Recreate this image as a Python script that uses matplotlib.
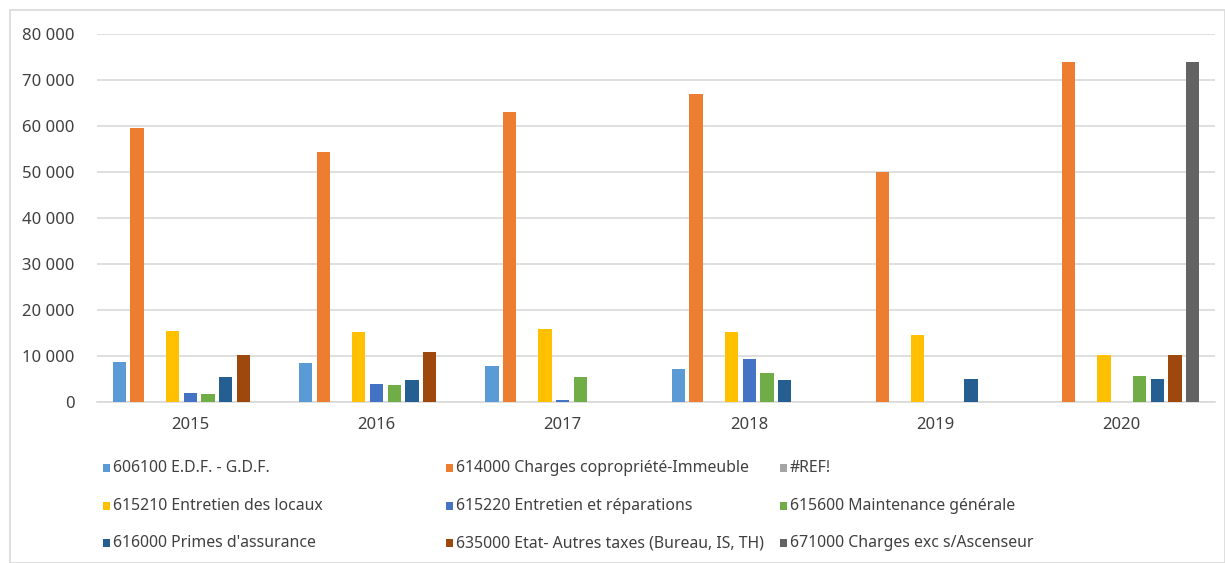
import matplotlib
matplotlib.use("Agg")
import matplotlib.pyplot as plt
import numpy as np
from matplotlib.patches import Rectangle
from matplotlib.ticker import FuncFormatter

years = ["2015", "2016", "2017", "2018", "2019", "2020"]
series_names = [
    "606100 E.D.F. - G.D.F.",
    "614000 Charges copropriété-Immeuble",
    "#REF!",
    "615210 Entretien des locaux",
    "615220 Entretien et réparations",
    "615600 Maintenance générale",
    "616000 Primes d'assurance",
    "635000 Etat- Autres taxes (Bureau, IS, TH)",
    "671000 Charges exc s/Ascenseur",
]
edf = [8700, 8400, 7800, 7200, 0, 0]
copro = [59600, 54400, 63000, 67000, 50000, 74000]
ref = [0, 0, 0, 0, 0, 0]
entretien_locaux = [15400, 15200, 15900, 15300, 14500, 10300]
entretien_rep = [2000, 4000, 400, 9300, 0, 0]
maintenance = [1700, 3800, 5400, 6300, 0, 5600]
assurance = [5400, 4700, 0, 4700, 4900, 4900]
taxes = [10300, 10800, 0, 0, 0, 10300]
ascenseur = [0, 0, 0, 0, 0, 74000]

values = [edf, copro, ref, entretien_locaux, entretien_rep, maintenance,
          assurance, taxes, ascenseur]
colors = ["#5B9BD5", "#ED7D31", "#A5A5A5", "#FFC000", "#4472C4", "#70AD47",
          "#255E91", "#9E480E", "#636363"]

plt.rcParams['font.family'] = ['Noto Sans', 'DejaVu Sans']

W, H = 1225, 563
fig = plt.figure(figsize=(W / 100, H / 100), dpi=100)
ax = fig.add_axes([97 / W, (H - 402) / H, (1215 - 97) / W, (402 - 34) / H])

x = np.arange(len(years))
slot = 0.095
bw = 0.0715
n = len(values)
for i, (vals, c) in enumerate(zip(values, colors)):
    off = (i - (n - 1) / 2) * slot
    ax.bar(x + off, vals, width=bw, color=c, zorder=3, linewidth=0)

ax.set_xlim(-0.5, len(years) - 0.5)
ax.set_ylim(0, 80000)
ax.set_yticks(np.arange(0, 80001, 10000))
ax.yaxis.set_major_formatter(FuncFormatter(lambda v, p: f"{int(v):,}".replace(",", " ")))
ax.set_xticks(x)
ax.set_xticklabels(years)
ax.grid(axis='y', color='#D9D9D9', linewidth=1.2, zorder=0)
for s in ['top', 'right', 'left']:
    ax.spines[s].set_visible(False)
ax.spines['bottom'].set_color('#D9D9D9')
ax.spines['bottom'].set_linewidth(1.2)
ax.tick_params(axis='both', length=0, labelsize=12, colors='#404040')
ax.tick_params(axis='y', pad=16)
ax.tick_params(axis='x', pad=11)

# outer border
fig.patches.append(Rectangle((10 / W, 0), (W - 10) / W, (H - 10) / H,
                             transform=fig.transFigure, fill=False,
                             edgecolor='#D9D9D9', linewidth=1.2))

# legend, 3 columns x 3 rows
col_x = [103, 446, 780]
row_y = [468, 506, 543]
for i, (name, c) in enumerate(zip(series_names, colors)):
    r, cc = divmod(i, 3)
    mx, my = col_x[cc], row_y[r]
    fig.patches.append(Rectangle((mx / W, (H - my - 4) / H), 7 / W, 8 / H,
                                 transform=fig.transFigure, facecolor=c,
                                 edgecolor='none'))
    fig.text((mx + 10) / W, (H - my) / H, name, fontsize=11.4, color='#404040',
             va='center', ha='left')

fig.savefig("out.png", dpi=100)
